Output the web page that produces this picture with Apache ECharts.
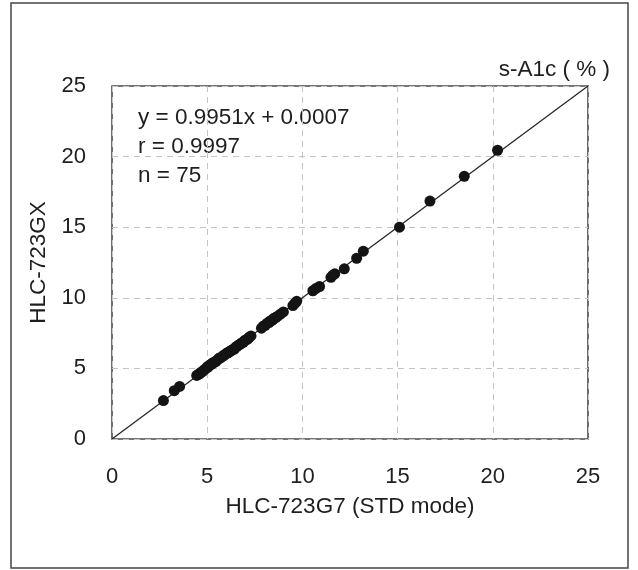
<!DOCTYPE html>
<html>
<head>
<meta charset="utf-8">
<script src="https://cdn.jsdelivr.net/npm/echarts@6/dist/echarts.min.js"></script>
<style>
html,body{margin:0;padding:0;background:#fff;}
#chart{width:638px;height:570px;}
</style>
</head>
<body>
<div id="chart"></div>
<script>
// HLC-723G7 (STD mode) values (x)
const stdMode = [
  2.7, 3.27, 3.55,
  4.45, 4.55, 4.6, 4.65, 4.75, 4.8, 4.9,
  5.0, 5.05, 5.1, 5.2, 5.25, 5.3, 5.4, 5.45, 5.5,
  5.6, 5.65, 5.7, 5.8, 5.85, 5.9, 6.0, 6.05,
  6.1, 6.2, 6.25, 6.3, 6.4, 6.45, 6.5, 6.55,
  6.6, 6.7, 6.75, 6.8, 6.9, 6.95, 7.0, 7.1, 7.15, 7.2, 7.3,
  7.85, 7.95, 8.05, 8.15, 8.25,
  8.3, 8.4, 8.45, 8.5, 8.6, 8.7, 8.85, 9.0,
  9.5, 9.6, 9.7,
  10.55, 10.7, 10.9,
  11.5, 11.6, 11.7,
  12.2,
  12.85, 13.2,
  15.1, 16.7, 18.5, 20.25
];
// HLC-723GX values (y)
const gxMode = [
  2.72, 3.42, 3.72,
  4.5, 4.6, 4.62, 4.7, 4.78, 4.85, 4.95,
  5.1, 5.1, 5.2, 5.3, 5.3, 5.4, 5.45, 5.5, 5.55,
  5.7, 5.72, 5.75, 5.85, 5.9, 5.95, 6.05, 6.1,
  6.1, 6.2, 6.25, 6.3, 6.35, 6.42, 6.5, 6.55,
  6.6, 6.7, 6.72, 6.8, 6.85, 6.95, 7.0, 7.05, 7.12, 7.2, 7.3,
  7.85, 8.0, 8.05, 8.2, 8.25,
  8.35, 8.4, 8.45, 8.55, 8.6, 8.7, 8.85, 9.0,
  9.45, 9.6, 9.75,
  10.5, 10.65, 10.8,
  11.45, 11.6, 11.7,
  12.05,
  12.8, 13.3,
  15.0, 16.85, 18.6, 20.45
];
// identity reference line endpoints
const refLine = [[0, 0], [25, 25]];
const axisTicks = [0, 5, 10, 15, 20, 25];
const statsText = ['y = 0.9951x + 0.0007', 'r = 0.9997', 'n = 75'];
const xTitle = 'HLC-723G7 (STD mode)';
const yTitle = 'HLC-723GX';
const unitText = 's-A1c ( % )';

const FONT = '"Liberation Sans", Arial, Helvetica, sans-serif';
const points = stdMode.map((v, i) => [v, gxMode[i]]);

const chart = echarts.init(document.getElementById('chart'), null, {renderer: 'canvas'});
chart.setOption({
  animation: false,
  backgroundColor: '#fff',
  grid: {
    left: 112, right: 50, top: 86, bottom: 131,
    show: true, borderColor: '#4a4a4a', borderWidth: 1.6, containLabel: false
  },
  xAxis: {
    type: 'value', min: axisTicks[0], max: axisTicks[axisTicks.length - 1], interval: 5,
    axisLine: {show: false}, axisTick: {show: false},
    splitLine: {show: true, lineStyle: {type: [6, 5], color: '#c4c4c4', width: 1}},
    axisLabel: {color: '#1e1e1e', fontSize: 22, fontFamily: FONT, margin: 27},
    name: xTitle, nameLocation: 'middle', nameGap: 56,
    nameTextStyle: {color: '#1e1e1e', fontSize: 22.5, fontFamily: FONT}
  },
  yAxis: {
    type: 'value', min: axisTicks[0], max: axisTicks[axisTicks.length - 1], interval: 5,
    axisLine: {show: false}, axisTick: {show: false},
    splitLine: {show: true, lineStyle: {type: [6, 5], color: '#c4c4c4', width: 1}},
    axisLabel: {color: '#1e1e1e', fontSize: 22, fontFamily: FONT, margin: 26},
    name: yTitle, nameLocation: 'middle', nameGap: 50, nameRotate: 90,
    nameTextStyle: {color: '#1e1e1e', fontSize: 22.5, fontFamily: FONT}
  },
  series: [
    {
      type: 'line', data: refLine, symbol: 'none', silent: true,
      lineStyle: {color: '#222', width: 1.2}, z: 1
    },
    {
      type: 'scatter', data: points, symbol: 'circle', symbolSize: 11,
      itemStyle: {color: '#141414', opacity: 1}, z: 2
    }
  ],
  graphic: [
    {type: 'rect', x: 0, y: 0, shape: {x: 11, y: 3, width: 617, height: 565},
     style: {fill: 'none', stroke: '#444', lineWidth: 1.5}, silent: true},
    {type: 'text', x: 138, y: 118, style: {text: statsText[0], font: '22.5px ' + FONT, fill: '#1e1e1e', textVerticalAlign: 'middle'}},
    {type: 'text', x: 138, y: 147, style: {text: statsText[1], font: '22.5px ' + FONT, fill: '#1e1e1e', textVerticalAlign: 'middle'}},
    {type: 'text', x: 138, y: 176, style: {text: statsText[2], font: '22.5px ' + FONT, fill: '#1e1e1e', textVerticalAlign: 'middle'}},
    {type: 'text', x: 610, y: 70, style: {text: unitText, font: '22.5px ' + FONT, fill: '#1e1e1e', textAlign: 'right', textVerticalAlign: 'middle'}}
  ]
});
</script>
</body>
</html>
